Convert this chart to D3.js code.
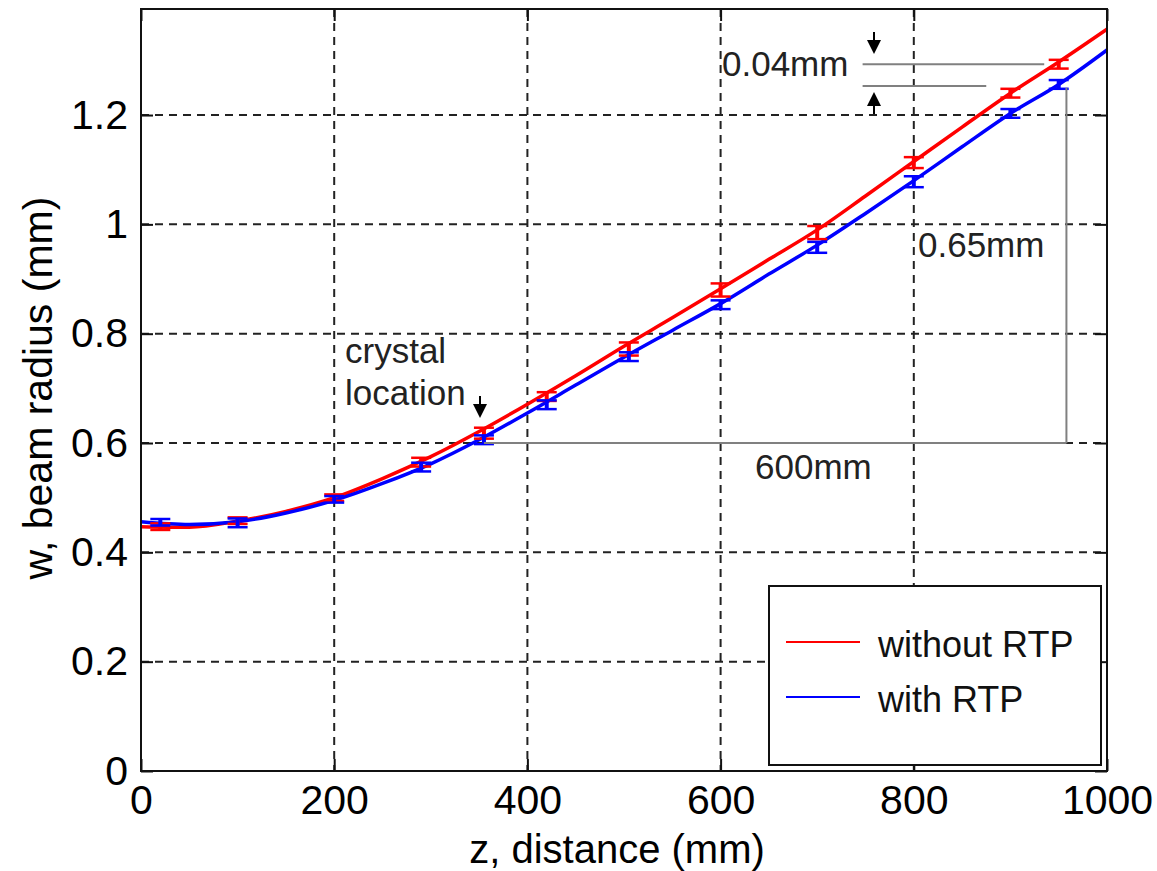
<!DOCTYPE html>
<html>
<head>
<meta charset="utf-8">
<script src="https://cdn.jsdelivr.net/npm/d3@7/dist/d3.min.js"></script>
<style>
  html, body { margin: 0; padding: 0; background: #fff; }
  svg { display: block; font-family: "Liberation Sans", Arial, sans-serif; }
</style>
</head>
<body>
<svg id="chart" width="1157" height="871"></svg>
<script>
// ---- data ----
const curveZ = [0, 50, 100, 150, 200, 250, 300, 350, 400, 450, 500, 550, 600, 650, 700, 750, 800, 850, 900, 950, 1000];
const withoutRTP = [0.447, 0.446, 0.457, 0.475, 0.500, 0.535, 0.575, 0.621, 0.671, 0.723, 0.777, 0.829, 0.882, 0.936, 0.990, 1.052, 1.115, 1.178, 1.240, 1.297, 1.357];
const withRTP    = [0.456, 0.451, 0.456, 0.472, 0.495, 0.526, 0.562, 0.606, 0.655, 0.706, 0.757, 0.806, 0.855, 0.909, 0.962, 1.020, 1.080, 1.142, 1.203, 1.256, 1.319];

const measZ = [20, 100, 200, 290, 355, 420, 505, 600, 700, 800, 900, 950];
const measWithout = [0.447, 0.458, 0.500, 0.565, 0.618, 0.685, 0.772, 0.880, 0.985, 1.113, 1.240, 1.293];
const errWithout  = [0.006, 0.006, 0.006, 0.008, 0.010, 0.008, 0.012, 0.012, 0.012, 0.010, 0.008, 0.008];
const measWith    = [0.455, 0.454, 0.497, 0.556, 0.606, 0.670, 0.758, 0.853, 0.958, 1.078, 1.203, 1.256];
const errWith     = [0.006, 0.008, 0.006, 0.008, 0.008, 0.008, 0.008, 0.008, 0.010, 0.010, 0.008, 0.008];

const xTicks = [0, 200, 400, 600, 800, 1000];
const yTicks = [0, 0.2, 0.4, 0.6, 0.8, 1.0, 1.2];
const seriesNames = ["without RTP", "with RTP"];
const seriesColors = ["#ff0000", "#0000ff"];

// annotations (data coordinates)
const crystalZ = 355, spanEndZ = 958, baseW = 0.6, topW = 1.25;
const gapTopW = 1.293, gapBotW = 1.253, gapTopEndZ = 935, gapBotEndZ = 875, gapStartZ = 747;

// ---- layout ----
const svg = d3.select("#chart");
const L = 141, R = 1107, T = 9, B = 771;
const x = d3.scaleLinear().domain([0, 1000]).range([L, R]);
const y = d3.scaleLinear().domain([0, 1.394]).range([B, T]);

// grid
const grid = svg.append("g").attr("stroke", "#222").attr("stroke-width", 2).attr("stroke-dasharray", "8,6");
grid.selectAll("line.gx").data(xTicks.filter(d => d > 0 && d < 1000)).join("line")
  .attr("x1", d => x(d)).attr("x2", d => x(d)).attr("y1", T).attr("y2", B);
grid.selectAll("line.gy").data(yTicks.filter(d => d > 0)).join("line")
  .attr("y1", d => y(d)).attr("y2", d => y(d)).attr("x1", L).attr("x2", R);

// axes (inward ticks)
const fmtY = d => d === 0 ? "0" : (d === 1 ? "1" : d3.format(".1f")(d));
const fmtX = d => String(d);
const ax = svg.append("g").attr("transform", `translate(0,${B})`)
  .call(d3.axisBottom(x).tickValues(xTicks).tickFormat(fmtX).tickSize(-12).tickPadding(14).tickSizeOuter(0));
const ay = svg.append("g").attr("transform", `translate(${L},0)`)
  .call(d3.axisLeft(y).tickValues(yTicks).tickFormat(fmtY).tickSize(-12).tickPadding(13).tickSizeOuter(0));
const axTop = svg.append("g").attr("transform", `translate(0,${T})`)
  .call(d3.axisTop(x).tickValues(xTicks).tickSize(-12).tickFormat("").tickSizeOuter(0));
const ayR = svg.append("g").attr("transform", `translate(${R},0)`)
  .call(d3.axisRight(y).tickValues(yTicks).tickSize(-12).tickFormat("").tickSizeOuter(0));
[ax, ay, axTop, ayR].forEach(g => {
  g.select(".domain").remove();
  g.selectAll(".tick line").attr("stroke", "#111").attr("stroke-width", 2);
  g.selectAll("text").attr("font-size", 41).attr("fill", "#000")
    .attr("font-family", "'Liberation Sans', Arial, sans-serif");
});

// curves
const line = d3.line().x(d => x(d[0])).y(d => y(d[1])).curve(d3.curveMonotoneX);
[withoutRTP, withRTP].forEach((vals, i) => {
  svg.append("path").datum(curveZ.map((z, k) => [z, vals[k]]))
    .attr("d", line).attr("fill", "none")
    .attr("stroke", seriesColors[i]).attr("stroke-width", 3.5);
});

// error bars
[[measWithout, errWithout], [measWith, errWith]].forEach(([vals, errs], i) => {
  const g = svg.append("g").attr("stroke", seriesColors[i]).attr("stroke-width", 2.5);
  measZ.forEach((z, k) => {
    const cx = x(z), y0 = y(vals[k] - errs[k]), y1 = y(vals[k] + errs[k]);
    g.append("line").attr("x1", cx).attr("x2", cx).attr("y1", y0).attr("y2", y1).attr("stroke-width", 4);
    g.append("line").attr("x1", cx - 10).attr("x2", cx + 10).attr("y1", y0).attr("y2", y0);
    g.append("line").attr("x1", cx - 10).attr("x2", cx + 10).attr("y1", y1).attr("y2", y1);
  });
});

// annotation lines
const ann = svg.append("g").attr("stroke", "#808080").attr("stroke-width", 2);
ann.append("line").attr("x1", x(crystalZ)).attr("x2", x(spanEndZ)).attr("y1", y(baseW)).attr("y2", y(baseW));
ann.append("line").attr("x1", x(spanEndZ)).attr("x2", x(spanEndZ)).attr("y1", y(baseW)).attr("y2", y(topW));
ann.append("line").attr("x1", x(gapStartZ)).attr("x2", x(gapTopEndZ)).attr("y1", y(gapTopW)).attr("y2", y(gapTopW));
ann.append("line").attr("x1", x(gapStartZ)).attr("x2", x(gapBotEndZ)).attr("y1", y(gapBotW)).attr("y2", y(gapBotW));

function arrow(cx, tipY, dir) { // dir: 1 down, -1 up
  const g = svg.append("g");
  g.append("line").attr("x1", cx).attr("x2", cx).attr("y1", tipY - dir * 22).attr("y2", tipY - dir * 12)
    .attr("stroke", "#000").attr("stroke-width", 2);
  g.append("path").attr("d", `M${cx - 7},${tipY - dir * 14} L${cx + 7},${tipY - dir * 14} L${cx},${tipY} Z`).attr("fill", "#000");
}
arrow(874, 54, 1);
arrow(874, 92, -1);
arrow(480, 418, 1);

const txt = svg.append("g").attr("font-size", 35).attr("fill", "#222");
txt.append("text").attr("x", 722).attr("y", 76).text("0.04mm");
txt.append("text").attr("x", 918).attr("y", 257).text("0.65mm");
txt.append("text").attr("x", 755).attr("y", 479).text("600mm");
txt.append("text").attr("x", 345).attr("y", 363).text("crystal");
txt.append("text").attr("x", 345).attr("y", 405).text("location");

// legend
const lg = svg.append("g");
lg.append("rect").attr("x", 769).attr("y", 586).attr("width", 332).attr("height", 179)
  .attr("fill", "#fff").attr("stroke", "#111").attr("stroke-width", 2);
seriesNames.forEach((name, i) => {
  const yy = 642 + i * 55;
  lg.append("line").attr("x1", 786).attr("x2", 860).attr("y1", yy).attr("y2", yy)
    .attr("stroke", seriesColors[i]).attr("stroke-width", 2);
  lg.append("text").attr("x", 878).attr("y", yy + 15).attr("font-size", 36).attr("fill", "#111").text(name);
});

// frame
svg.append("rect").attr("x", L).attr("y", T).attr("width", R - L).attr("height", B - T)
  .attr("fill", "none").attr("stroke", "#111").attr("stroke-width", 2);

// axis labels
svg.append("text").attr("x", (L + R) / 2 - 7).attr("y", 863).attr("text-anchor", "middle")
  .attr("font-size", 40).attr("fill", "#000").text("z, distance (mm)");
svg.append("text").attr("transform", `translate(52,388) rotate(-90)`).attr("text-anchor", "middle")
  .attr("font-size", 41).attr("fill", "#000").text("w, beam radius (mm)");
</script>
</body>
</html>
